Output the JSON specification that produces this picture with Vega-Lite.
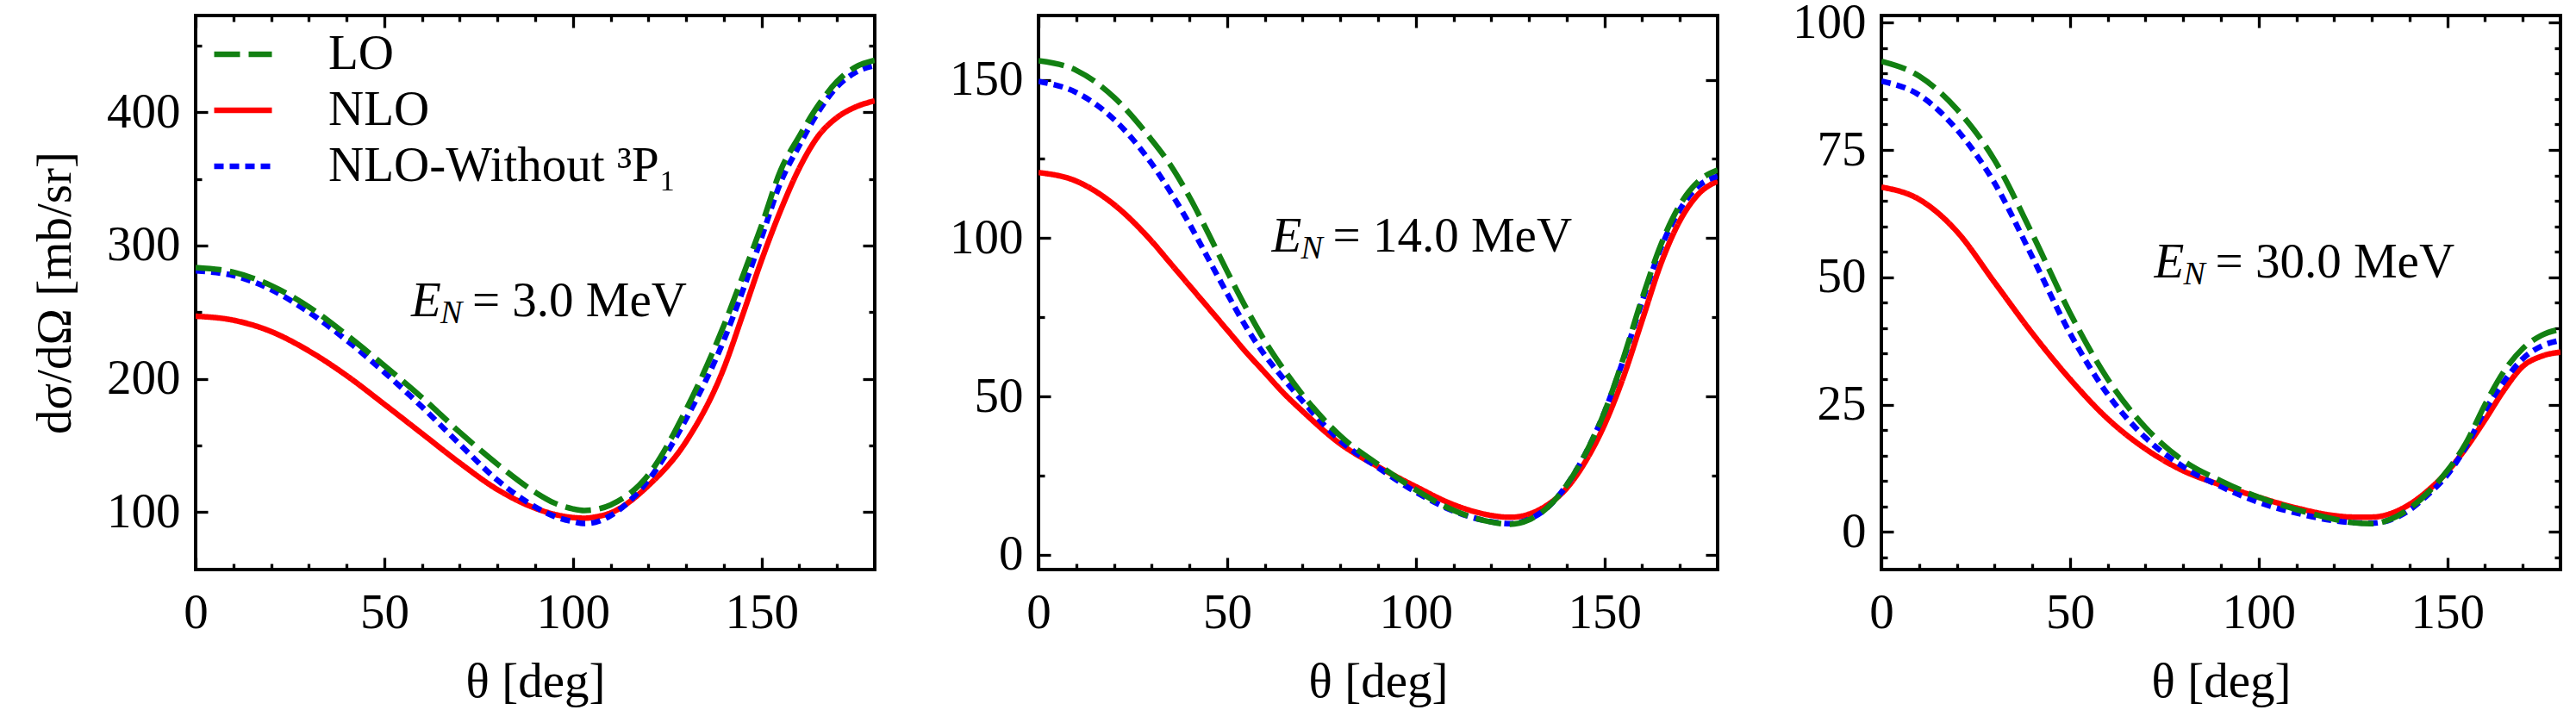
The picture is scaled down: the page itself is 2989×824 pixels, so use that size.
{
  "$schema": "https://vega.github.io/schema/vega-lite/v6.json",
  "background": "white",
  "padding": {"left": 33, "top": -5, "right": 0, "bottom": 0},
  "datasets": {
    "curves": [
      {"panel": 1, "theta": 0, "LO": 283.5, "NLO": 247, "NLO-Without ³P₁": 281},
      {"panel": 1, "theta": 10, "LO": 280, "NLO": 244, "NLO-Without ³P₁": 277.5},
      {"panel": 1, "theta": 20, "LO": 270, "NLO": 235.5, "NLO-Without ³P₁": 267},
      {"panel": 1, "theta": 30, "LO": 254, "NLO": 221, "NLO-Without ³P₁": 250},
      {"panel": 1, "theta": 40, "LO": 233, "NLO": 202.5, "NLO-Without ³P₁": 229},
      {"panel": 1, "theta": 50, "LO": 210, "NLO": 181, "NLO-Without ³P₁": 205},
      {"panel": 1, "theta": 60, "LO": 186, "NLO": 159, "NLO-Without ³P₁": 179},
      {"panel": 1, "theta": 70, "LO": 160, "NLO": 137, "NLO-Without ³P₁": 151},
      {"panel": 1, "theta": 80, "LO": 136, "NLO": 117, "NLO-Without ³P₁": 124},
      {"panel": 1, "theta": 90, "LO": 115, "NLO": 103, "NLO-Without ³P₁": 104},
      {"panel": 1, "theta": 95, "LO": 107, "NLO": 98.5, "NLO-Without ³P₁": 97},
      {"panel": 1, "theta": 100, "LO": 102.5, "NLO": 96, "NLO-Without ³P₁": 93},
      {"panel": 1, "theta": 103, "LO": 101.3, "NLO": 95.5, "NLO-Without ³P₁": 91.5},
      {"panel": 1, "theta": 106, "LO": 102, "NLO": 96.5, "NLO-Without ³P₁": 92.5},
      {"panel": 1, "theta": 110, "LO": 105.5, "NLO": 99.5, "NLO-Without ³P₁": 97.5},
      {"panel": 1, "theta": 120, "LO": 128, "NLO": 120, "NLO-Without ³P₁": 124},
      {"panel": 1, "theta": 130, "LO": 177, "NLO": 153, "NLO-Without ³P₁": 170},
      {"panel": 1, "theta": 140, "LO": 240, "NLO": 208, "NLO-Without ³P₁": 229},
      {"panel": 1, "theta": 145, "LO": 277, "NLO": 248, "NLO-Without ³P₁": 266},
      {"panel": 1, "theta": 150, "LO": 315, "NLO": 289, "NLO-Without ³P₁": 306},
      {"panel": 1, "theta": 155, "LO": 356, "NLO": 326, "NLO-Without ³P₁": 347},
      {"panel": 1, "theta": 160, "LO": 382, "NLO": 358, "NLO-Without ³P₁": 375},
      {"panel": 1, "theta": 165, "LO": 405, "NLO": 382, "NLO-Without ³P₁": 400},
      {"panel": 1, "theta": 170, "LO": 423, "NLO": 396, "NLO-Without ³P₁": 419},
      {"panel": 1, "theta": 175, "LO": 434, "NLO": 404, "NLO-Without ³P₁": 430},
      {"panel": 1, "theta": 180, "LO": 439, "NLO": 408.5, "NLO-Without ³P₁": 435},
      {"panel": 2, "theta": 0, "LO": 156, "NLO": 120.7, "NLO-Without ³P₁": 149.5},
      {"panel": 2, "theta": 10, "LO": 153, "NLO": 118, "NLO-Without ³P₁": 146},
      {"panel": 2, "theta": 20, "LO": 144.5, "NLO": 110.6, "NLO-Without ³P₁": 137.5},
      {"panel": 2, "theta": 30, "LO": 131, "NLO": 99, "NLO-Without ³P₁": 123.5},
      {"panel": 2, "theta": 35, "LO": 123, "NLO": 92, "NLO-Without ³P₁": 114.5},
      {"panel": 2, "theta": 40, "LO": 113, "NLO": 85, "NLO-Without ³P₁": 104.5},
      {"panel": 2, "theta": 45, "LO": 101.5, "NLO": 78, "NLO-Without ³P₁": 93.5},
      {"panel": 2, "theta": 50, "LO": 89.5, "NLO": 71, "NLO-Without ³P₁": 82.5},
      {"panel": 2, "theta": 55, "LO": 78, "NLO": 64, "NLO-Without ³P₁": 72},
      {"panel": 2, "theta": 60, "LO": 67.5, "NLO": 57.5, "NLO-Without ³P₁": 63},
      {"panel": 2, "theta": 65, "LO": 58.5, "NLO": 51, "NLO-Without ³P₁": 55.5},
      {"panel": 2, "theta": 70, "LO": 50.5, "NLO": 45.3, "NLO-Without ³P₁": 48.5},
      {"panel": 2, "theta": 80, "LO": 37.5, "NLO": 35, "NLO-Without ³P₁": 36},
      {"panel": 2, "theta": 90, "LO": 28.5, "NLO": 27.8, "NLO-Without ³P₁": 27.5},
      {"panel": 2, "theta": 100, "LO": 20.5, "NLO": 21.5, "NLO-Without ³P₁": 19.8},
      {"panel": 2, "theta": 110, "LO": 14, "NLO": 15.8, "NLO-Without ³P₁": 13.8},
      {"panel": 2, "theta": 120, "LO": 10.3, "NLO": 12.4, "NLO-Without ³P₁": 10.4},
      {"panel": 2, "theta": 125, "LO": 9.6, "NLO": 11.8, "NLO-Without ³P₁": 9.8},
      {"panel": 2, "theta": 130, "LO": 11, "NLO": 12.8, "NLO-Without ³P₁": 11.2},
      {"panel": 2, "theta": 135, "LO": 15, "NLO": 15.8, "NLO-Without ³P₁": 15},
      {"panel": 2, "theta": 140, "LO": 22, "NLO": 21, "NLO-Without ³P₁": 22},
      {"panel": 2, "theta": 145, "LO": 32, "NLO": 29.5, "NLO-Without ³P₁": 32},
      {"panel": 2, "theta": 150, "LO": 45, "NLO": 41, "NLO-Without ³P₁": 45},
      {"panel": 2, "theta": 155, "LO": 62, "NLO": 56, "NLO-Without ³P₁": 61.5},
      {"panel": 2, "theta": 160, "LO": 81, "NLO": 74, "NLO-Without ³P₁": 80},
      {"panel": 2, "theta": 165, "LO": 98, "NLO": 92, "NLO-Without ³P₁": 97},
      {"panel": 2, "theta": 170, "LO": 110.5, "NLO": 105.5, "NLO-Without ³P₁": 109},
      {"panel": 2, "theta": 175, "LO": 118, "NLO": 114, "NLO-Without ³P₁": 116.5},
      {"panel": 2, "theta": 180, "LO": 121.5, "NLO": 118, "NLO-Without ³P₁": 119.5},
      {"panel": 3, "theta": 0, "LO": 92.4, "NLO": 67.7, "NLO-Without ³P₁": 88.5},
      {"panel": 3, "theta": 10, "LO": 89.5, "NLO": 65.3, "NLO-Without ³P₁": 85.8},
      {"panel": 3, "theta": 20, "LO": 83, "NLO": 59, "NLO-Without ³P₁": 79},
      {"panel": 3, "theta": 30, "LO": 73, "NLO": 49, "NLO-Without ³P₁": 68.5},
      {"panel": 3, "theta": 40, "LO": 58.5, "NLO": 39, "NLO-Without ³P₁": 54},
      {"panel": 3, "theta": 50, "LO": 43, "NLO": 30, "NLO-Without ³P₁": 39},
      {"panel": 3, "theta": 60, "LO": 30, "NLO": 22.2, "NLO-Without ³P₁": 27},
      {"panel": 3, "theta": 70, "LO": 20.5, "NLO": 16.3, "NLO-Without ³P₁": 18.5},
      {"panel": 3, "theta": 80, "LO": 14, "NLO": 12, "NLO-Without ³P₁": 12.8},
      {"panel": 3, "theta": 90, "LO": 10, "NLO": 9.2, "NLO-Without ³P₁": 8.9},
      {"panel": 3, "theta": 100, "LO": 6.8, "NLO": 6.8, "NLO-Without ³P₁": 5.8},
      {"panel": 3, "theta": 110, "LO": 4.4, "NLO": 4.7, "NLO-Without ³P₁": 3.7},
      {"panel": 3, "theta": 120, "LO": 2.5, "NLO": 3.2, "NLO-Without ³P₁": 2.2},
      {"panel": 3, "theta": 125, "LO": 1.8, "NLO": 2.9, "NLO-Without ³P₁": 1.8},
      {"panel": 3, "theta": 130, "LO": 1.6, "NLO": 2.9, "NLO-Without ³P₁": 1.7},
      {"panel": 3, "theta": 135, "LO": 2.5, "NLO": 3.6, "NLO-Without ³P₁": 2.4},
      {"panel": 3, "theta": 140, "LO": 4.6, "NLO": 5.4, "NLO-Without ³P₁": 4.3},
      {"panel": 3, "theta": 145, "LO": 7.8, "NLO": 8.2, "NLO-Without ³P₁": 7.4},
      {"panel": 3, "theta": 150, "LO": 12, "NLO": 11.8, "NLO-Without ³P₁": 11.2},
      {"panel": 3, "theta": 155, "LO": 17.5, "NLO": 16.5, "NLO-Without ³P₁": 16.8},
      {"panel": 3, "theta": 160, "LO": 25, "NLO": 22, "NLO-Without ³P₁": 23.8},
      {"panel": 3, "theta": 165, "LO": 31.5, "NLO": 27.8, "NLO-Without ³P₁": 29.5},
      {"panel": 3, "theta": 170, "LO": 36, "NLO": 32.5, "NLO-Without ³P₁": 34},
      {"panel": 3, "theta": 175, "LO": 38.6, "NLO": 34.5, "NLO-Without ³P₁": 36.5},
      {"panel": 3, "theta": 180, "LO": 39.8, "NLO": 35.3, "NLO-Without ³P₁": 37.6}
    ],
    "notes": [
      {"panel": 1, "theta": 57.1, "value": 247, "e": "E", "n": "N", "rest": "= 3.0 MeV"},
      {"panel": 2, "theta": 61.8, "value": 95.8, "e": "E", "n": "N", "rest": "= 14.0 MeV"},
      {"panel": 3, "theta": 72.3, "value": 50, "e": "E", "n": "N", "rest": "= 30.0 MeV"}
    ]
  },
  "hconcat": [
    {
      "width": 788,
      "height": 643,
      "layer": [
        {
          "data": {"name": "curves"},
          "transform": [
            {"filter": "datum.panel === 1"},
            {"fold": ["NLO", "NLO-Without ³P₁", "LO"], "as": ["series", "value"]}
          ],
          "mark": {"type": "line", "strokeWidth": 6.5, "interpolate": "monotone", "clip": true},
          "encoding": {
            "x": {"field": "theta", "type": "quantitative", "scale": {"domain": [0, 180], "nice": false, "zero": false},
              "axis": {"orient": "bottom", "values": [0, 50, 100, 150], "ticks": false, "labelPadding": 22, "title": "θ [deg]", "titlePadding": 24}},
            "y": {"field": "value", "type": "quantitative", "scale": {"domain": [57, 472.5], "nice": false, "zero": false},
              "axis": {"orient": "left", "values": [100, 200, 300, 400], "ticks": false, "labelPadding": 18, "title": "dσ/dΩ [mb/sr]", "titlePadding": 30}},
            "color": {"field": "series", "type": "nominal",
              "scale": {"domain": ["LO", "NLO", "NLO-Without ³P₁"], "range": ["#128012", "#ff0000", "#0000ff"]},
              "legend": {"orient": "none", "legendX": 18, "legendY": 8, "title": null, "symbolType": "stroke", "symbolSize": 4489, "symbolStrokeWidth": 6.5, "labelFont": "Liberation Serif", "labelFontSize": 57, "labelColor": "black", "labelOffset": 62, "labelLimit": 1000, "rowPadding": -9.5, "padding": 0}},
            "strokeDash": {"field": "series", "type": "nominal",
              "scale": {"domain": ["LO", "NLO", "NLO-Without ³P₁"], "range": [[30, 10], [1, 0], [11, 7]]},
              "legend": {"orient": "none", "legendX": 18, "legendY": 8, "title": null, "symbolType": "stroke", "symbolSize": 4489, "symbolStrokeWidth": 6.5, "labelFont": "Liberation Serif", "labelFontSize": 57, "labelColor": "black", "labelOffset": 62, "labelLimit": 1000, "rowPadding": -9.5, "padding": 0}}
          }
        },
        {
          "data": {"name": "notes"},
          "transform": [{"filter": "datum.panel === 1"}],
          "mark": {"type": "text", "fontStyle": "italic", "fontSize": 57, "align": "left", "baseline": "alphabetic"},
          "encoding": {
            "x": {"field": "theta", "type": "quantitative", "scale": {"domain": [0, 180], "nice": false, "zero": false},
              "axis": {"orient": "bottom", "values": [0, 50, 100, 150], "labels": false, "tickSize": -14, "title": null}},
            "y": {"field": "value", "type": "quantitative", "scale": {"domain": [57, 472.5], "nice": false, "zero": false},
              "axis": {"orient": "left", "values": [100, 200, 300, 400], "labels": false, "tickSize": -14, "title": null}},
            "text": {"field": "e", "type": "nominal"}
          }
        },
        {
          "data": {"name": "notes"},
          "transform": [{"filter": "datum.panel === 1"}],
          "mark": {"type": "text", "fontStyle": "italic", "fontSize": 38, "align": "left", "baseline": "alphabetic", "dx": 34, "dy": 8},
          "encoding": {
            "x": {"field": "theta", "type": "quantitative", "scale": {"domain": [0, 180], "nice": false, "zero": false},
              "axis": {"orient": "bottom", "values": [10, 20, 30, 40, 60, 70, 80, 90, 110, 120, 130, 140, 160, 170], "labels": false, "tickSize": -7, "title": null}},
            "y": {"field": "value", "type": "quantitative", "scale": {"domain": [57, 472.5], "nice": false, "zero": false},
              "axis": {"orient": "left", "values": [150, 250, 350, 450], "labels": false, "tickSize": -7, "title": null}},
            "text": {"field": "n", "type": "nominal"}
          }
        },
        {
          "data": {"name": "notes"},
          "transform": [{"filter": "datum.panel === 1"}],
          "mark": {"type": "text", "fontSize": 57, "align": "left", "baseline": "alphabetic", "dx": 71},
          "encoding": {
            "x": {"field": "theta", "type": "quantitative", "scale": {"domain": [0, 180], "nice": false, "zero": false},
              "axis": {"orient": "top", "values": [0, 50, 100, 150], "labels": false, "tickSize": -14, "title": null}},
            "y": {"field": "value", "type": "quantitative", "scale": {"domain": [57, 472.5], "nice": false, "zero": false},
              "axis": {"orient": "right", "values": [100, 200, 300, 400], "labels": false, "tickSize": -14, "title": null}},
            "text": {"field": "rest", "type": "nominal"}
          }
        },
        {
          "data": {"name": "notes"},
          "transform": [{"filter": "datum.panel === 1"}],
          "mark": {"type": "point", "opacity": 0},
          "encoding": {
            "x": {"field": "theta", "type": "quantitative", "scale": {"domain": [0, 180], "nice": false, "zero": false},
              "axis": {"orient": "top", "values": [10, 20, 30, 40, 60, 70, 80, 90, 110, 120, 130, 140, 160, 170], "labels": false, "tickSize": -7, "title": null}},
            "y": {"field": "value", "type": "quantitative", "scale": {"domain": [57, 472.5], "nice": false, "zero": false},
              "axis": {"orient": "right", "values": [150, 250, 350, 450], "labels": false, "tickSize": -7, "title": null}}
          }
        }
      ],
      "resolve": {"axis": {"x": "independent", "y": "independent"}}
    },
    {
      "width": 788,
      "height": 643,
      "layer": [
        {
          "data": {"name": "curves"},
          "transform": [
            {"filter": "datum.panel === 2"},
            {"fold": ["NLO", "NLO-Without ³P₁", "LO"], "as": ["series", "value"]}
          ],
          "mark": {"type": "line", "strokeWidth": 6.5, "interpolate": "monotone", "clip": true},
          "encoding": {
            "x": {"field": "theta", "type": "quantitative", "scale": {"domain": [0, 180], "nice": false, "zero": false},
              "axis": {"orient": "bottom", "values": [0, 50, 100, 150], "ticks": false, "labelPadding": 22, "title": "θ [deg]", "titlePadding": 24}},
            "y": {"field": "value", "type": "quantitative", "scale": {"domain": [-4.7, 170.3], "nice": false, "zero": false},
              "axis": {"orient": "left", "values": [0, 50, 100, 150], "ticks": false, "labelPadding": 18, "title": null}},
            "color": {"field": "series", "type": "nominal",
              "scale": {"domain": ["LO", "NLO", "NLO-Without ³P₁"], "range": ["#128012", "#ff0000", "#0000ff"]}, "legend": null},
            "strokeDash": {"field": "series", "type": "nominal",
              "scale": {"domain": ["LO", "NLO", "NLO-Without ³P₁"], "range": [[30, 10], [1, 0], [11, 7]]}, "legend": null}
          }
        },
        {
          "data": {"name": "notes"},
          "transform": [{"filter": "datum.panel === 2"}],
          "mark": {"type": "text", "fontStyle": "italic", "fontSize": 57, "align": "left", "baseline": "alphabetic"},
          "encoding": {
            "x": {"field": "theta", "type": "quantitative", "scale": {"domain": [0, 180], "nice": false, "zero": false},
              "axis": {"orient": "bottom", "values": [0, 50, 100, 150], "labels": false, "tickSize": -14, "title": null}},
            "y": {"field": "value", "type": "quantitative", "scale": {"domain": [-4.7, 170.3], "nice": false, "zero": false},
              "axis": {"orient": "left", "values": [0, 50, 100, 150], "labels": false, "tickSize": -14, "title": null}},
            "text": {"field": "e", "type": "nominal"}
          }
        },
        {
          "data": {"name": "notes"},
          "transform": [{"filter": "datum.panel === 2"}],
          "mark": {"type": "text", "fontStyle": "italic", "fontSize": 38, "align": "left", "baseline": "alphabetic", "dx": 34, "dy": 8},
          "encoding": {
            "x": {"field": "theta", "type": "quantitative", "scale": {"domain": [0, 180], "nice": false, "zero": false},
              "axis": {"orient": "bottom", "values": [10, 20, 30, 40, 60, 70, 80, 90, 110, 120, 130, 140, 160, 170], "labels": false, "tickSize": -7, "title": null}},
            "y": {"field": "value", "type": "quantitative", "scale": {"domain": [-4.7, 170.3], "nice": false, "zero": false},
              "axis": {"orient": "left", "values": [25, 75, 125], "labels": false, "tickSize": -7, "title": null}},
            "text": {"field": "n", "type": "nominal"}
          }
        },
        {
          "data": {"name": "notes"},
          "transform": [{"filter": "datum.panel === 2"}],
          "mark": {"type": "text", "fontSize": 57, "align": "left", "baseline": "alphabetic", "dx": 71},
          "encoding": {
            "x": {"field": "theta", "type": "quantitative", "scale": {"domain": [0, 180], "nice": false, "zero": false},
              "axis": {"orient": "top", "values": [0, 50, 100, 150], "labels": false, "tickSize": -14, "title": null}},
            "y": {"field": "value", "type": "quantitative", "scale": {"domain": [-4.7, 170.3], "nice": false, "zero": false},
              "axis": {"orient": "right", "values": [0, 50, 100, 150], "labels": false, "tickSize": -14, "title": null}},
            "text": {"field": "rest", "type": "nominal"}
          }
        },
        {
          "data": {"name": "notes"},
          "transform": [{"filter": "datum.panel === 2"}],
          "mark": {"type": "point", "opacity": 0},
          "encoding": {
            "x": {"field": "theta", "type": "quantitative", "scale": {"domain": [0, 180], "nice": false, "zero": false},
              "axis": {"orient": "top", "values": [10, 20, 30, 40, 60, 70, 80, 90, 110, 120, 130, 140, 160, 170], "labels": false, "tickSize": -7, "title": null}},
            "y": {"field": "value", "type": "quantitative", "scale": {"domain": [-4.7, 170.3], "nice": false, "zero": false},
              "axis": {"orient": "right", "values": [25, 75, 125], "labels": false, "tickSize": -7, "title": null}}
          }
        }
      ],
      "resolve": {"axis": {"x": "independent", "y": "independent"}}
    },
    {
      "width": 788,
      "height": 643,
      "layer": [
        {
          "data": {"name": "curves"},
          "transform": [
            {"filter": "datum.panel === 3"},
            {"fold": ["NLO", "NLO-Without ³P₁", "LO"], "as": ["series", "value"]}
          ],
          "mark": {"type": "line", "strokeWidth": 6.5, "interpolate": "monotone", "clip": true},
          "encoding": {
            "x": {"field": "theta", "type": "quantitative", "scale": {"domain": [0, 180], "nice": false, "zero": false},
              "axis": {"orient": "bottom", "values": [0, 50, 100, 150], "ticks": false, "labelPadding": 22, "title": "θ [deg]", "titlePadding": 24}},
            "y": {"field": "value", "type": "quantitative", "scale": {"domain": [-7.4, 101.4], "nice": false, "zero": false},
              "axis": {"orient": "left", "values": [0, 25, 50, 75, 100], "ticks": false, "labelPadding": 18, "title": null}},
            "color": {"field": "series", "type": "nominal",
              "scale": {"domain": ["LO", "NLO", "NLO-Without ³P₁"], "range": ["#128012", "#ff0000", "#0000ff"]}, "legend": null},
            "strokeDash": {"field": "series", "type": "nominal",
              "scale": {"domain": ["LO", "NLO", "NLO-Without ³P₁"], "range": [[30, 10], [1, 0], [11, 7]]}, "legend": null}
          }
        },
        {
          "data": {"name": "notes"},
          "transform": [{"filter": "datum.panel === 3"}],
          "mark": {"type": "text", "fontStyle": "italic", "fontSize": 57, "align": "left", "baseline": "alphabetic"},
          "encoding": {
            "x": {"field": "theta", "type": "quantitative", "scale": {"domain": [0, 180], "nice": false, "zero": false},
              "axis": {"orient": "bottom", "values": [0, 50, 100, 150], "labels": false, "tickSize": -14, "title": null}},
            "y": {"field": "value", "type": "quantitative", "scale": {"domain": [-7.4, 101.4], "nice": false, "zero": false},
              "axis": {"orient": "left", "values": [0, 25, 50, 75, 100], "labels": false, "tickSize": -14, "title": null}},
            "text": {"field": "e", "type": "nominal"}
          }
        },
        {
          "data": {"name": "notes"},
          "transform": [{"filter": "datum.panel === 3"}],
          "mark": {"type": "text", "fontStyle": "italic", "fontSize": 38, "align": "left", "baseline": "alphabetic", "dx": 34, "dy": 8},
          "encoding": {
            "x": {"field": "theta", "type": "quantitative", "scale": {"domain": [0, 180], "nice": false, "zero": false},
              "axis": {"orient": "bottom", "values": [10, 20, 30, 40, 60, 70, 80, 90, 110, 120, 130, 140, 160, 170], "labels": false, "tickSize": -7, "title": null}},
            "y": {"field": "value", "type": "quantitative", "scale": {"domain": [-7.4, 101.4], "nice": false, "zero": false},
              "axis": {"orient": "left", "values": [-5, 5, 10, 15, 20, 30, 35, 40, 45, 55, 60, 65, 70, 80, 85, 90, 95], "labels": false, "tickSize": -7, "title": null}},
            "text": {"field": "n", "type": "nominal"}
          }
        },
        {
          "data": {"name": "notes"},
          "transform": [{"filter": "datum.panel === 3"}],
          "mark": {"type": "text", "fontSize": 57, "align": "left", "baseline": "alphabetic", "dx": 71},
          "encoding": {
            "x": {"field": "theta", "type": "quantitative", "scale": {"domain": [0, 180], "nice": false, "zero": false},
              "axis": {"orient": "top", "values": [0, 50, 100, 150], "labels": false, "tickSize": -14, "title": null}},
            "y": {"field": "value", "type": "quantitative", "scale": {"domain": [-7.4, 101.4], "nice": false, "zero": false},
              "axis": {"orient": "right", "values": [0, 25, 50, 75, 100], "labels": false, "tickSize": -14, "title": null}},
            "text": {"field": "rest", "type": "nominal"}
          }
        },
        {
          "data": {"name": "notes"},
          "transform": [{"filter": "datum.panel === 3"}],
          "mark": {"type": "point", "opacity": 0},
          "encoding": {
            "x": {"field": "theta", "type": "quantitative", "scale": {"domain": [0, 180], "nice": false, "zero": false},
              "axis": {"orient": "top", "values": [10, 20, 30, 40, 60, 70, 80, 90, 110, 120, 130, 140, 160, 170], "labels": false, "tickSize": -7, "title": null}},
            "y": {"field": "value", "type": "quantitative", "scale": {"domain": [-7.4, 101.4], "nice": false, "zero": false},
              "axis": {"orient": "right", "values": [-5, 5, 10, 15, 20, 30, 35, 40, 45, 55, 60, 65, 70, 80, 85, 90, 95], "labels": false, "tickSize": -7, "title": null}}
          }
        }
      ],
      "resolve": {"axis": {"x": "independent", "y": "independent"}}
    }
  ],
  "spacing": 190,
  "bounds": "flush",
  "resolve": {
    "scale": {"x": "independent", "y": "independent"},
    "axis": {"x": "independent", "y": "independent"},
    "legend": {"color": "independent", "strokeDash": "independent"}
  },
  "config": {
    "view": {"stroke": "black", "strokeWidth": 4},
    "axis": {
      "grid": false,
      "domain": false,
      "labelFont": "Liberation Serif",
      "labelFontSize": 57,
      "labelColor": "black",
      "labelFlush": false,
      "labelOverlap": false,
      "tickColor": "black",
      "tickWidth": 3.3,
      "titleFont": "Liberation Serif",
      "titleFontSize": 57,
      "titleFontWeight": "normal",
      "titleColor": "black"
    },
    "text": {"font": "Liberation Serif", "color": "black"}
  }
}
